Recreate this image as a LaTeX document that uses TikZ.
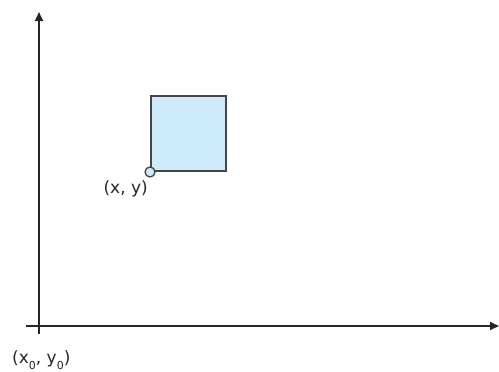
\documentclass[tikz,border=0pt]{standalone}
\usepackage{fontspec}
\setmainfont{DejaVu Sans}
\usetikzlibrary{arrows.meta}
\definecolor{boxfill}{HTML}{CDEBFB}
\definecolor{boxline}{HTML}{454545}
\newcommand{\subz}{\raisebox{-0.35em}{\fontsize{11}{11}\selectfont 0}}
\begin{document}
\begin{tikzpicture}[x=1pt,y=-1pt,
  axis/.style={line width=2.2pt,draw=black!85,-{Triangle[length=9pt,width=8pt]}},
  lbl/.style={font=\fontsize{17}{20}\selectfont,text=black!85,inner sep=0pt}]
\useasboundingbox[fill=white] (0,0) rectangle (499,372);
\coordinate (ybot) at (39,334);
\coordinate (ytop) at (39,12);
\coordinate (xl) at (26,326);
\coordinate (xr) at (499,326);
\draw[axis] (ybot) -- (ytop);
\draw[axis] (xl) -- (xr);
\node[draw=boxline,line width=1.7pt,fill=boxfill,minimum width=75pt,minimum height=75pt,inner sep=0pt,anchor=south west] (sq) at (150,172) {};
\node[circle,draw=boxline,line width=1.3pt,fill=boxfill,minimum size=10pt,inner sep=0pt] (pt) at (sq.south west) {};
\node[lbl,anchor=north east] (xy) at (148,180) {(x, y)};
\node[lbl,anchor=north west] (origin) at (12,350) {(x\subz, y\subz)};
\end{tikzpicture}
\end{document}
